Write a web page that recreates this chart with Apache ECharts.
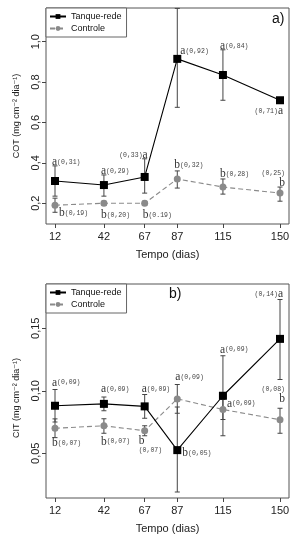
<!DOCTYPE html>
<html><head><meta charset="utf-8">
<script src="https://cdn.jsdelivr.net/npm/echarts@6/dist/echarts.min.js"></script>
<style>html,body{margin:0;padding:0;background:#fff}#c{width:297px;height:540px}</style>
</head><body><div id="c"></div>
<script>
// ---- data ----
const days = [12, 42, 67, 87, 115, 150];
const xTicks = [12, 42, 67, 87, 115, 150];
const yTicksTop = [0.2, 0.4, 0.6, 0.8, 1.0];
const yTickLabelsTop = ['0,2', '0,4', '0,6', '0,8', '1,0'];
const yTicksBot = [0.05, 0.10, 0.15];
const yTickLabelsBot = ['0,05', '0,10', '0,15'];

const cotTanque   = [0.31, 0.29, 0.33, 0.915, 0.835, 0.71];
const cotTanqueLo = [0.235, 0.235, 0.25, 0.675, 0.71, 0.70];
const cotTanqueHi = [0.385, 0.34, 0.42, 1.165, 0.96, 0.72];
const cotCtrl     = [0.19, 0.20, 0.20, 0.32, 0.28, 0.25];
const cotCtrlLo   = [0.155, 0.19, 0.19, 0.275, 0.245, 0.21];
const cotCtrlHi   = [0.225, 0.21, 0.21, 0.36, 0.32, 0.28];

const citTanque   = [0.088, 0.0895, 0.0875, 0.0525, 0.096, 0.1415];
const citTanqueLo = [0.075, 0.084, 0.078, 0.019, 0.064, 0.109];
const citTanqueHi = [0.101, 0.095, 0.097, 0.087, 0.128, 0.173];
const citCtrl     = [0.070, 0.072, 0.068, 0.0935, 0.085, 0.0768];
const citCtrlLo   = [0.0625, 0.066, 0.064, 0.082, 0.077, 0.066];
const citCtrlHi   = [0.0775, 0.0776, 0.072, 0.105, 0.093, 0.086];

const cotTanqueLbl = ['a(0,31)', 'a(0,29)', '(0,33)a', 'a(0,92)', 'a(0,84)', '(0,71)a'];
const cotCtrlLbl   = ['b(0,19)', 'b(0,20)', 'b(0.19)', 'b(0,32)', 'b(0,28)', '(0,25)\nb'];
const citTanqueLbl = ['a(0,09)', 'a(0,09)', 'a(0,09)', 'b(0,05)', 'a(0,09)', '(0,14)a'];
const citCtrlLbl   = ['b(0,07)', 'b(0,07)', 'b\n(0,07)', 'a(0,09)', 'a(0,09)', '(0,08)\nb'];

// ---- label layout (align, dx, dy) ----
const cotTanquePos = [['left',-3,-19],['left',-3,-14],['right',3,-22],['left',3,-8],['left',-3,-29],['right',3,11]];
const cotCtrlPos   = [['left',4,8],['left',-3,12],['left',-2,12],['left',-3,-14],['left',-3,-13],['right',5,-15]];
const citTanquePos = [['left',-3,-23],['left',-3,-15],['left',-3,-17],['left',5,3],['left',-3,-46],['right',3,-45]];
const citCtrlPos   = [['left',-3,15],['left',-3,16],['left',-6,15],['left',-2,-22],['left',4,-6],['right',5,-25]];

const rich = {
  l: {fontFamily: 'Liberation Serif', fontSize: 11.5, color: '#333', lineHeight: 10},
  n: {fontFamily: 'Liberation Mono', fontSize: 6.5, color: '#444', lineHeight: 9}
};
function fmtLabel(s) {
  return s.replace(/\([^)]*\)/g, m => '{n|' + m + '}').replace(/(^|[\n)}])([ab])/g, (m, p, c) => p + '{l|' + c + '}');
}
function lineData(vals, lbls, pos) {
  return vals.map((v, i) => ({
    value: [days[i], v],
    label: {
      show: true, position: 'inside', align: pos[i][0], verticalAlign: 'middle',
      offset: [pos[i][1], pos[i][2]], formatter: fmtLabel(lbls[i]), rich: rich
    }
  }));
}
function errData(lo, hi) { return days.map((d, i) => [d, lo[i], hi[i]]); }
function errRender(params, api) {
  const x = api.value(0);
  const a = api.coord([x, api.value(1)]);
  const b = api.coord([x, api.value(2)]);
  const w = 2.5;
  const st = {stroke: '#444', lineWidth: 1};
  return {type: 'group', children: [
    {type: 'line', shape: {x1: a[0], y1: a[1], x2: b[0], y2: b[1]}, style: st},
    {type: 'line', shape: {x1: a[0]-w, y1: a[1], x2: a[0]+w, y2: a[1]}, style: st},
    {type: 'line', shape: {x1: b[0]-w, y1: b[1], x2: b[0]+w, y2: b[1]}, style: st}
  ]};
}

const axFont = {fontFamily: 'Liberation Sans', fontSize: 11, color: '#222'};
function xAx(gi) {
  return {
    type: 'value', gridIndex: gi, min: 6.48, max: 155.52,
    name: 'Tempo (dias)', nameLocation: 'middle', nameGap: 25,
    nameTextStyle: {fontFamily: 'Liberation Sans', fontSize: 11, color: '#222'},
    axisLine: {show: false}, splitLine: {show: false},
    axisTick: {show: true, inside: false, length: 4, customValues: xTicks, lineStyle: {color: '#444'}},
    axisLabel: Object.assign({customValues: xTicks, margin: 7}, axFont)
  };
}
function yAx(gi, min, max, ticks, labels, name, namePad) {
  return {
    type: 'value', gridIndex: gi, min: min, max: max,
    name: name, nameLocation: 'middle', nameGap: 25,
    nameTextStyle: {fontFamily: 'Liberation Sans, DejaVu Sans', fontSize: 9, color: '#222', padding: namePad},
    axisLine: {show: false}, splitLine: {show: false},
    axisTick: {show: true, inside: false, length: 4, customValues: ticks, lineStyle: {color: '#444'}},
    axisLabel: Object.assign({customValues: ticks, rotate: 90, margin: 5,
      formatter: v => labels[ticks.findIndex(t => Math.abs(t - v) < 1e-9)]}, axFont)
  };
}
const tanqueStyle = {type: 'line', symbol: 'rect', symbolSize: 8, itemStyle: {color: '#000'},
  lineStyle: {color: '#000', width: 1.1}, z: 5, emphasis: {disabled: true}};
const ctrlStyle = {type: 'line', symbol: 'circle', symbolSize: 7, itemStyle: {color: '#8a8a8a'},
  lineStyle: {color: '#8a8a8a', width: 1.1, type: [5, 3]}, z: 4, emphasis: {disabled: true}};
function legend(top) {
  return {orient: 'vertical', left: 46, top: top, data: ['Tanque-rede', 'Controle'],
    borderColor: '#666', borderWidth: 1, borderRadius: 0, padding: [4, 5, 4, 3], itemGap: 3,
    itemWidth: 16, itemHeight: 6, backgroundColor: '#fff',
    textStyle: {fontFamily: 'Liberation Sans', fontSize: 9, color: '#111'}, selectedMode: false};
}

const option = {
  animation: false,
  grid: [
    {left: 46, right: 8, top: 8, height: 216, show: true, borderColor: '#555', borderWidth: 1},
    {left: 46, right: 8, top: 284, height: 214, show: true, borderColor: '#555', borderWidth: 1}
  ],
  xAxis: [xAx(0), xAx(1)],
  yAxis: [
    yAx(0, 0.097, 1.167, yTicksTop, yTickLabelsTop, 'COT (mg cm⁻² dia⁻¹)', [0, 0, 0, 0]),
    yAx(1, 0.0142, 0.1854, yTicksBot, yTickLabelsBot, 'CIT (mg cm⁻² dia⁻¹)', [0, 14, 0, 0])
  ],
  legend: [legend(8), legend(284)],
  graphic: [
    {type: 'text', left: 272, top: 12, style: {text: 'a)', font: '14px Liberation Sans', fill: '#111'}},
    {type: 'text', left: 169, top: 287, style: {text: 'b)', font: '14px Liberation Sans', fill: '#111'}}
  ],
  series: [
    {type: 'custom', xAxisIndex: 0, yAxisIndex: 0, renderItem: errRender, data: errData(cotCtrlLo, cotCtrlHi), z: 2, silent: true},
    {type: 'custom', xAxisIndex: 0, yAxisIndex: 0, renderItem: errRender, data: errData(cotTanqueLo, cotTanqueHi), z: 3, silent: true},
    Object.assign({name: 'Controle', xAxisIndex: 0, yAxisIndex: 0, data: lineData(cotCtrl, cotCtrlLbl, cotCtrlPos)}, ctrlStyle),
    Object.assign({name: 'Tanque-rede', xAxisIndex: 0, yAxisIndex: 0, data: lineData(cotTanque, cotTanqueLbl, cotTanquePos)}, tanqueStyle),
    {type: 'custom', xAxisIndex: 1, yAxisIndex: 1, renderItem: errRender, data: errData(citCtrlLo, citCtrlHi), z: 2, silent: true},
    {type: 'custom', xAxisIndex: 1, yAxisIndex: 1, renderItem: errRender, data: errData(citTanqueLo, citTanqueHi), z: 3, silent: true},
    Object.assign({name: 'Controle', xAxisIndex: 1, yAxisIndex: 1, data: lineData(citCtrl, citCtrlLbl, citCtrlPos)}, ctrlStyle),
    Object.assign({name: 'Tanque-rede', xAxisIndex: 1, yAxisIndex: 1, data: lineData(citTanque, citTanqueLbl, citTanquePos)}, tanqueStyle)
  ]
};
const chart = echarts.init(document.getElementById('c'), null, {renderer: 'canvas'});
chart.setOption(option);
</script></body></html>
